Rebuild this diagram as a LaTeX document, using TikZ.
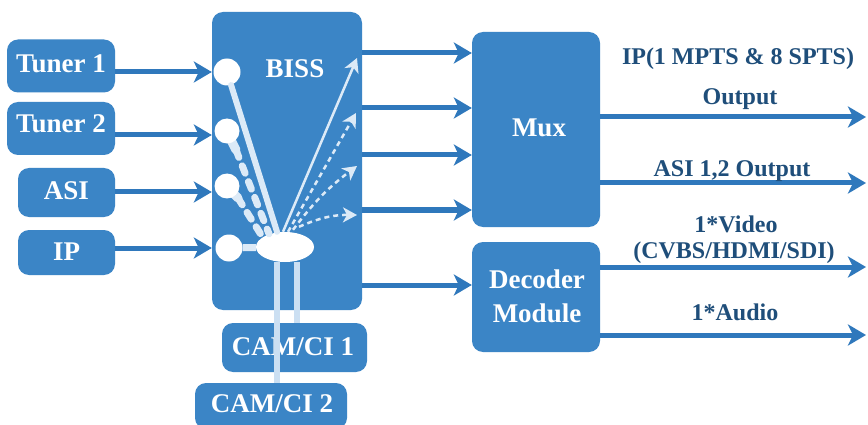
\documentclass[tikz,border=0pt]{standalone}
\usepackage{fontspec}
\setmainfont{Liberation Serif}
\usetikzlibrary{arrows.meta,shapes.geometric}
\definecolor{boxblue}{HTML}{3B85C6}
\definecolor{arrblue}{HTML}{2F78BC}
\definecolor{txtblue}{HTML}{1F4E7A}
\definecolor{pale}{HTML}{DCEAF7}
\definecolor{camline}{HTML}{CBDFF2}
\begin{document}
\begin{tikzpicture}[x=1pt,y=-1pt,
  box/.style={fill=boxblue, rounded corners=11pt, inner sep=0pt},
  lbl/.style={text=white, font=\bfseries\fontsize{27}{27}\selectfont, anchor=base, inner sep=0pt},
  olbl/.style={text=txtblue, font=\bfseries\fontsize{24}{24}\selectfont, anchor=base, inner sep=0pt},
  flow/.style={draw=arrblue, line width=5pt, -{Stealth[length=18pt,width=21pt,inset=5pt]}},
  port/.style={circle, fill=white, minimum size=27pt, inner sep=0pt},
  inner/.style={draw=pale, line width=2.5pt, -{Stealth[length=14pt,width=15pt,inset=4pt]}},
  dotted inner/.style={inner, dash pattern=on 5pt off 4pt},
  leg/.style={draw=pale, line width=6pt, line cap=round},
  dashleg/.style={leg, line width=7pt, dash pattern=on 8pt off 9pt},
  camleg/.style={draw=camline, line width=6pt}]
\useasboundingbox (0,0) rectangle (868,425);
\fill[white] (0,0) rectangle (868,425);

% input boxes
\node[box, minimum width=108pt, minimum height=53pt] (t1) at (61,66) {};
\node[box, minimum width=108pt, minimum height=53pt] (t2) at (61,128.5) {};
\node[box, minimum width=97pt, minimum height=49pt] (asi) at (66.5,192.5) {};
\node[box, minimum width=97pt, minimum height=45pt] (ip) at (66.5,252.5) {};
\node[lbl] (t1l) at (61,73) {Tuner 1};
\node[lbl] (t2l) at (61,133) {Tuner 2};
\node[lbl] (asil) at (66.5,200) {ASI};
\node[lbl] (ipl) at (66.5,260) {IP};

% BISS
\node[box, minimum width=150pt, minimum height=298pt] (biss) at (287,161) {};
\node[lbl] (bissl) at (295,78) {BISS};

% CAM boxes
\node[box, minimum width=145pt, minimum height=49pt] (cam1) at (294.5,347.5) {};
\node[box, minimum width=152pt, minimum height=46pt] (cam2) at (271,406) {};
\node[lbl] (cam1l) at (293,355) {CAM/CI 1};
\node[lbl] (cam2l) at (272,412) {CAM/CI 2};

% Mux and decoder
\node[box, minimum width=128pt, minimum height=195pt] (mux) at (536,129.5) {};
\node[lbl] (muxl) at (539,137) {Mux};
\node[box, minimum width=128pt, minimum height=110pt] (dec) at (536,297) {};
\node[lbl] (decl) at (537,288) {Decoder};
\node[lbl] (decl2) at (537,322) {Module};

% input arrows
\draw[flow] ([yshift=-6pt]t1.east) -- ([yshift=-6pt]t1.east -| biss.west);
\draw[flow] ([yshift=-6.5pt]t2.east) -- ([yshift=-6.5pt]t2.east -| biss.west);
\draw[flow] ([yshift=0.5pt]asi.east) -- ([yshift=0.5pt]asi.east -| biss.west);
\draw[flow] ([yshift=4.5pt]ip.east) -- ([yshift=4.5pt]ip.east -| biss.west);

% inside BISS
\node[ellipse, fill=white, minimum width=58pt, minimum height=30pt, inner sep=0pt] (ell) at (285,247) {};
\coordinate (tail2) at (236,150);
\coordinate (tail3) at (238,198);
\draw[leg, line width=9pt] (227,132) -- (tail2);
\draw[leg, line width=9pt] (227,187) -- (tail3);
\node[port] (c1) at (227,72) {};
\node[port, minimum size=25pt] (c2) at (227,131) {};
\node[port, minimum size=25pt] (c3) at (227,186) {};
\node[port] (c4) at (229,248) {};
\draw[leg] (c1) -- ([xshift=-8pt]ell.north);
\draw[dashleg] (tail2) -- ([xshift=-16pt,yshift=-2pt]ell.north);
\draw[dashleg] (tail3) -- ([xshift=-22pt,yshift=-6pt]ell.north);
\draw[draw=pale, line width=7pt] (c4) -- (ell);

\coordinate (o1) at (357,58);
\coordinate (o2) at (356,113);
\coordinate (o3) at (357,166);
\coordinate (o4) at (357,215);
\draw[inner] ([xshift=-2pt]ell.north) -- (o1);
\draw[dotted inner] ([xshift=3pt]ell.north) -- (o2);
\draw[dotted inner] ([xshift=8pt,yshift=2pt]ell.north) to[bend left=8] (o3);
\draw[dotted inner] ([xshift=14pt,yshift=5pt]ell.north) to[bend left=12] (o4);

% CAM legs
\draw[camleg] ([xshift=-8pt]ell.south) -- ([xshift=-8pt]ell.south |- cam2.north);
\draw[camleg] ([xshift=12pt]ell.south) -- ([xshift=12pt]ell.south |- cam1.north);

% BISS to Mux / decoder
\draw[flow] ([yshift=108pt]biss.east) -- ([yshift=76.5pt]mux.west);
\draw[flow] ([yshift=53pt]biss.east) -- ([yshift=21.5pt]mux.west);
\draw[flow] ([yshift=6pt]biss.east) -- ([yshift=-25.5pt]mux.west);
\draw[flow] ([yshift=-49pt]biss.east) -- ([yshift=-80.5pt]mux.west);
\draw[flow] ([yshift=-124pt]biss.east) -- ([yshift=12pt]dec.west);

% outputs
\coordinate (e1) at (866,117);
\coordinate (e2) at (866,183);
\coordinate (e3) at (866,267);
\coordinate (e4) at (866,335);
\draw[flow] (mux.east |- e1) -- (e1);
\draw[flow] (mux.east |- e2) -- (e2);
\draw[flow] (dec.east |- e3) -- (e3);
\draw[flow] (dec.east |- e4) -- (e4);

\node[olbl] (l1) at (738,65) {IP(1 MPTS \& 8 SPTS)};
\node[olbl] (l1b) at (740,105) {Output};
\node[olbl] (l2) at (732,177) {ASI 1,2 Output};
\node[olbl] (l3) at (736,233) {1*Video};
\node[olbl] (l3b) at (734,258) {(CVBS/HDMI/SDI)};
\node[olbl] (l4) at (735,320) {1*Audio};
\end{tikzpicture}
\end{document}
